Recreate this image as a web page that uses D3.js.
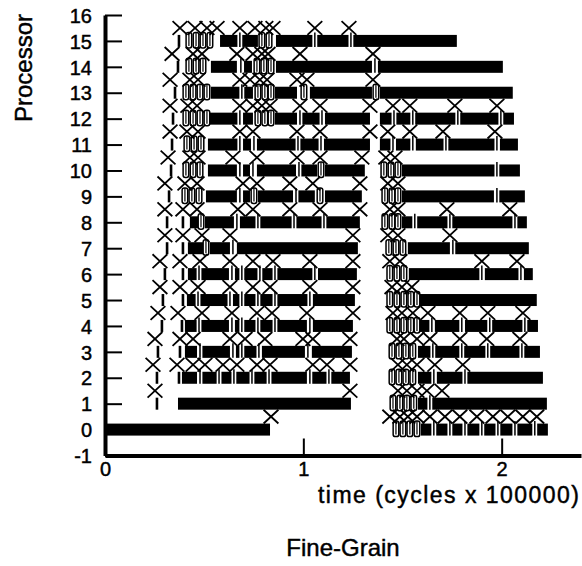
<!DOCTYPE html>
<html>
<head>
<meta charset="utf-8">
<script src="https://cdn.jsdelivr.net/npm/d3@7"></script>
<style>
  html, body { margin: 0; padding: 0; background: #fff; }
  svg { display: block; }
  text { font-family: "Liberation Sans", Arial, Helvetica, sans-serif; fill: #000; stroke: #000; stroke-width: 0.45px; }
</style>
</head>
<body>
<svg id="chart" width="582" height="566"></svg>
<script>
// Execution trace of a 16-processor run (time in cycles x 100000).
const processors = d3.range(0, 16);
const yTicks = d3.range(-1, 17);
const xTicks = [0, 1, 2];

// Busy intervals per processor: [start, end]
const busy = [
  [[0,0.832],[1.593,1.648],[1.668,1.729],[1.744,1.804],[1.825,1.890],[1.910,1.976],[1.991,2.056],[2.077,2.157],[2.177,2.233]],
  [[0.368,1.240],[1.578,1.628],[1.643,2.228]],
  [[0.388,0.464],[0.489,0.565],[0.585,0.640],[0.660,0.731],[0.751,0.817],[0.837,1.018],[1.043,1.119],[1.139,1.235],[1.578,1.648],[1.673,1.804],[1.825,2.208]],
  [[0.403,0.464],[0.489,0.630],[0.660,0.680],[0.701,0.766],[0.791,1.008],[1.043,1.245],[1.578,1.648],[1.663,1.789],[1.810,1.925],[1.940,2.092],[2.112,2.193]],
  [[0.403,0.464],[0.484,0.625],[0.655,0.680],[0.701,0.761],[0.781,0.847],[0.867,1.018],[1.048,1.250],[1.588,1.638],[1.663,1.789],[1.815,1.930],[1.951,2.107],[2.127,2.183]],
  [[0.413,0.459],[0.479,0.620],[0.645,0.680],[0.701,0.761],[0.781,0.847],[0.867,1.023],[1.048,1.260],[1.588,2.177]],
  [[0.418,0.464],[0.484,0.625],[0.655,0.680],[0.701,0.771],[0.791,0.847],[0.867,1.048],[1.074,1.270],[1.532,1.890],[1.915,2.087],[2.112,2.157]],
  [[0.418,0.494],[0.529,0.630],[0.665,1.275],[1.527,1.739],[1.764,2.137]],
  [[0.428,0.469],[0.504,0.650],[0.680,0.761],[0.781,0.943],[0.963,1.094],[1.114,1.285],[1.497,1.552],[1.573,1.729],[1.749,2.056],[2.077,2.127]],
  [[0.509,0.665],[0.696,0.731],[0.771,0.948],[0.973,1.058],[1.109,1.295],[1.497,1.961],[1.986,2.117]],
  [[0.519,0.665],[0.696,0.731],[0.766,0.963],[0.988,1.069],[1.109,1.310],[1.497,1.966],[1.986,2.092]],
  [[0.519,0.670],[0.696,0.736],[0.766,0.968],[0.983,1.079],[1.104,1.336],[1.386,1.441],[1.467,1.542],[1.567,1.709],[1.729,1.966],[1.991,2.082]],
  [[0.529,0.670],[0.696,0.746],[0.857,0.968],[0.993,1.084],[1.109,1.336],[1.386,1.447],[1.467,1.542],[1.562,1.769],[1.789,1.986],[2.006,2.062]],
  [[0.534,0.680],[0.701,0.746],[0.857,0.968],[1.033,1.346],[1.386,2.056]],
  [[0.534,0.665],[0.701,0.741],[0.862,1.346],[1.376,2.006]],
  [[0.580,0.670],[0.690,0.771],[0.862,1.048],[1.069,1.230],[1.250,1.774]]
];

// Message sends (drawn as X between a processor's row and the next)
const sends = [
  [0.837,1.436,1.487,1.527,1.573,1.638,1.714,1.789,1.875,1.956,2.031,2.107,2.177],
  [0.252,1.235,1.477,1.522,1.573,1.623,1.699],
  [0.242,0.363,0.444,0.504,0.595,0.665,0.766,0.832,1.048,1.119,1.235,1.477,1.522,1.573,1.663,1.804],
  [0.252,0.378,0.444,0.630,0.706,0.806,0.998,1.048,1.235,1.472,1.507,1.573,1.638,1.789,1.925,2.092],
  [0.267,0.368,0.489,0.640,0.766,0.842,1.018,1.250,1.452,1.497,1.552,1.628,1.789,1.930,2.107],
  [0.277,0.378,0.469,0.630,0.746,0.832,1.033,1.250,1.447,1.497,1.547],
  [0.277,0.378,0.479,0.630,0.746,0.847,1.033,1.250,1.436,1.487,1.900,2.077],
  [0.302,0.393,0.489,0.630,1.250,1.426,1.477,1.739],
  [0.302,0.393,0.464,0.670,0.746,0.932,1.084,1.285,1.436,1.477,1.724,2.041],
  [0.302,0.403,0.464,0.696,0.766,0.932,1.048,1.285,1.426,1.477],
  [0.318,0.428,0.469,0.645,0.766,0.968,1.084,1.295,1.416,1.462],
  [0.328,0.413,0.469,0.680,0.746,0.968,1.084,1.336,1.426,1.537,1.704,1.966],
  [0.328,0.418,0.464,0.680,0.746,0.791,0.832,0.983,1.084,1.336,1.452,1.537,1.764,1.976],
  [0.328,0.428,0.469,0.680,0.731,0.781,0.817,0.968,1.018,1.351],
  [0.338,0.444,0.489,0.665,0.746,0.791,0.822,0.983,1.351],
  [0.378,0.454,0.514,0.565,0.680,0.756,0.811,0.847,1.058,1.230]
];

// Message receives (split marks inside the busy bars)
const receives = [
  [1.658,1.739,1.815,1.900,1.981,2.067,2.167],
  [1.638],
  [0.479,0.575,0.650,0.741,0.827,1.033,1.129,1.658,1.815],
  [0.479,0.645,0.690,0.776,1.023,1.653,1.799,1.930,2.102],
  [0.474,0.640,0.690,0.771,0.857,1.033,1.648,1.799,1.940,2.117],
  [0.469,0.630,0.690,0.771,0.857,1.033],
  [0.474,0.640,0.690,0.781,0.857,1.058,1.900,2.097],
  [0.645,1.754],
  [0.665,0.771,0.953,1.104,1.562,1.739,2.067],
  [0.680,0.963,1.976],
  [0.680,0.746,0.978,1.976],
  [0.680,0.751,0.973,1.089,1.452,1.552,1.719,1.976],
  [0.680,0.983,1.094,1.457,1.552,1.779,1.996],
  [0.690],
  [0.685,1.361],
  [0.680,1.058,1.240]
];

// Blocking waits (hollow marks)
const waits = [
  [1.467,1.502,1.537,1.573],
  [1.452,1.487,1.522,1.557],
  [1.447,1.482,1.517,1.552],
  [1.447,1.482,1.517,1.552],
  [1.436,1.472,1.507,1.542,1.573],
  [1.436,1.472,1.507,1.542,1.573],
  [1.436,1.472,1.507],
  [0.509,1.431,1.467,1.502],
  [0.484,1.411,1.447,1.477],
  [0.403,0.438,0.474,0.751,1.084,1.411,1.447,1.477],
  [0.408,0.444,0.479,1.089,1.406,1.442,1.477],
  [0.413,0.449,0.484],
  [0.408,0.444,0.479,0.514,0.771,0.806,0.837],
  [0.408,0.444,0.479,0.514,0.771,0.806,0.837,1.003,1.366],
  [0.423,0.459,0.494,0.766,0.801,0.837],
  [0.423,0.459,0.494,0.529,0.791,0.827]
];

// Processor start-up events (thin ticks)
const startups = [
  [],
  [0.262],
  [0.262,0.373],
  [0.267,0.378],
  [0.287,0.388],
  [0.292,0.393],
  [0.302,0.393],
  [0.313,0.393],
  [0.313,0.393],
  [0.323],
  [0.333],
  [0.338],
  [0.343],
  [0.353],
  [0.368],
  [0.373]
];

const svg = d3.select("#chart");
const x = d3.scaleLinear().domain([0, 2.4]).range([105, 581]);
const y = d3.scaleLinear().domain([-1, 16]).range([455.5, 15]);

const barH = 12;
const plot = svg.append("g");

// busy bars
processors.forEach(p => {
  plot.selectAll(null).data(busy[p]).enter().append("rect")
    .attr("x", d => x(d[0]))
    .attr("y", y(p) - barH / 2)
    .attr("width", d => x(d[1]) - x(d[0]))
    .attr("height", barH)
    .attr("fill", "#000");
});

// receive marks: white split with a thin black stem
processors.forEach(p => {
  const g = plot.append("g");
  g.selectAll(null).data(receives[p]).enter().append("rect")
    .attr("x", d => x(d) - 2.4)
    .attr("y", y(p) - barH / 2 - 1)
    .attr("width", 4.8)
    .attr("height", barH + 2)
    .attr("fill", "#fff");
  g.selectAll(null).data(receives[p]).enter().append("line")
    .attr("x1", d => x(d)).attr("x2", d => x(d))
    .attr("y1", y(p) - barH / 2 - 2.5)
    .attr("y2", y(p) + barH / 2)
    .attr("stroke", "#000").attr("stroke-width", 1.5);
});

// wait marks: hollow pills with a centre stem
processors.forEach(p => {
  const g = plot.append("g");
  g.selectAll(null).data(waits[p]).enter().append("rect")
    .attr("x", d => x(d) - 2.8)
    .attr("y", y(p) - barH / 2 - 2.5)
    .attr("width", 5.6)
    .attr("height", barH + 3.5)
    .attr("rx", 2.2)
    .attr("fill", "#fff")
    .attr("stroke", "#000")
    .attr("stroke-width", 1.5);
  g.selectAll(null).data(waits[p]).enter().append("line")
    .attr("x1", d => x(d)).attr("x2", d => x(d))
    .attr("y1", y(p) - barH / 2 - 2.5)
    .attr("y2", y(p) + barH / 2 - 1)
    .attr("stroke", "#000").attr("stroke-width", 1.2);
});

// start-up ticks
processors.forEach(p => {
  plot.append("g").selectAll(null).data(startups[p]).enter().append("rect")
    .attr("x", d => x(d) - 1.3)
    .attr("y", y(p) - 6)
    .attr("width", 2.6)
    .attr("height", 12)
    .attr("fill", "#000");
});

// send markers (X) half a row above the sending processor
const xs = 7.4, ys = 6.9;
processors.forEach(p => {
  plot.append("g").selectAll(null).data(sends[p]).enter().append("path")
    .attr("d", d => {
      const cx = x(d), cy = y(p + 0.5);
      return `M${cx - xs},${cy - ys}L${cx + xs},${cy + ys}M${cx - xs},${cy + ys}L${cx + xs},${cy - ys}`;
    })
    .attr("fill", "none")
    .attr("stroke", "#000")
    .attr("stroke-width", 1.8);
});

// axes
const fmt = d => String(d);
const yAxis = d3.axisLeft(y).tickValues(yTicks).tickFormat(fmt).tickSize(-17).tickSizeOuter(0).tickPadding(13);
const gy = svg.append("g").attr("transform", `translate(${x(0)},0)`).call(yAxis);
gy.select(".domain").attr("stroke", "#000").attr("stroke-width", 4);
gy.selectAll(".tick line").attr("stroke", "#000").attr("stroke-width", 2);
gy.selectAll(".tick text").style("font-size", "20px").attr("dy", "0.36em");

const xAxis = d3.axisBottom(x).tickValues(xTicks).tickFormat(fmt).tickSize(-17).tickSizeOuter(0).tickPadding(6);
const gx = svg.append("g").attr("transform", `translate(0,${y(-1)})`).call(xAxis);
gx.select(".domain").attr("stroke", "#000").attr("stroke-width", 4);
gx.selectAll(".tick line").attr("stroke", "#000").attr("stroke-width", 2);
gx.selectAll(".tick text").style("font-size", "20px");
gx.selectAll(".tick").filter(d => d === 0).select("line").remove();

// titles
svg.append("text")
  .attr("transform", "translate(32,68) rotate(-90)")
  .attr("text-anchor", "middle")
  .style("font-size", "24px")
  .text("Processor");

svg.append("text")
  .attr("x", 579).attr("y", 503)
  .attr("text-anchor", "end")
  .attr("textLength", 261)
  .attr("lengthAdjust", "spacing")
  .style("font-size", "23px")
  .text("time (cycles x 100000)");

svg.append("text")
  .attr("x", 343).attr("y", 556)
  .attr("text-anchor", "middle")
  .style("font-size", "24px")
  .text("Fine-Grain");
</script>
</body>
</html>
